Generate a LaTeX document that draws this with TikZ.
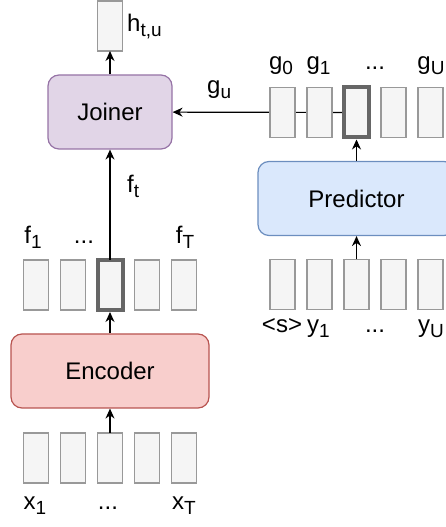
\documentclass[tikz,border=0pt]{standalone}
\usepackage{fontspec}
\setmainfont{Liberation Sans}
\usetikzlibrary{arrows.meta,positioning,backgrounds}
\definecolor{vecfill}{HTML}{F5F5F5}
\definecolor{vecline}{HTML}{999999}
\definecolor{selline}{HTML}{666666}
\definecolor{joinfill}{HTML}{E1D5E7}
\definecolor{joinline}{HTML}{9673A6}
\definecolor{encfill}{HTML}{F8CECC}
\definecolor{encline}{HTML}{B85450}
\definecolor{predfill}{HTML}{DAE8FC}
\definecolor{predline}{HTML}{6C8EBF}
\newcommand{\lsub}[1]{\raisebox{-5pt}{\fontsize{19}{19}\selectfont #1}}

\begin{document}
\begin{tikzpicture}[x=1pt, y=1pt,
  every node/.style={font=\fontsize{24}{28}\selectfont},
  vec/.style={rectangle, draw=vecline, fill=vecfill, line width=1.2pt,
              minimum width=25pt, minimum height=50pt, inner sep=0pt, outer sep=0pt},
  sel/.style={vec, draw=selline, line width=4pt},
  blk/.style={rectangle, rounded corners=11pt, line width=1.2pt,
              minimum height=74pt, inner sep=0pt},
  lbl/.style={anchor=base, inner sep=0pt},
  ar/.style={-{Stealth[length=10pt,width=9pt]}, line width=1.2pt}
]
\useasboundingbox (0,0) rectangle (446,527);
\clip (0,0) rectangle (446,527);

\node[blk, fill=joinfill, draw=joinline, minimum width=124pt] (join) at (110,415) {Joiner};
\node[blk, fill=encfill, draw=encline, minimum width=198pt] (enc) at (110,156) {Encoder};
\node[blk, fill=predfill, draw=predline, minimum width=197pt] (pred) at (356.5,328.5) {Predictor};
\node[vec] (h) at (110,501) {};

\node[vec] (x1) at (36,69) {};
\node[vec, right=12pt of x1] (x2) {};
\node[vec, right=12pt of x2] (x3) {};
\node[vec, right=12pt of x3] (x4) {};
\node[vec, right=12pt of x4] (x5) {};

\node[vec] (f1) at (36,242) {};
\node[vec, right=12pt of f1] (f2) {};
\node[sel, right=12pt of f2] (f3) {};
\node[vec, right=12pt of f3] (f4) {};
\node[vec, right=12pt of f4] (f5) {};

\node[vec] (y1) at (282.5,242.5) {};
\node[vec, right=12pt of y1] (y2) {};
\node[vec, right=12pt of y2] (y3) {};
\node[vec, right=12pt of y3] (y4) {};
\node[vec, right=12pt of y4] (y5) {};

\node[vec] (g1) at (282.5,414.5) {};
\node[vec, right=12pt of g1] (g2) {};
\node[sel, right=12pt of g2] (g3) {};
\node[vec, right=12pt of g3] (g4) {};
\node[vec, right=12pt of g4] (g5) {};

\node[lbl, anchor=base west] (hlab) at (127,495) {h\lsub{t,u}};
\node[lbl, anchor=base west] (gulab) at (207,433) {g\lsub{u}};
\node[lbl, anchor=base west] (ftlab) at (127,334) {f\lsub{t}};

\node[lbl] (xl1) at (35,17) {x\lsub{1}};
\node[lbl] (xl2) at (108,17) {...};
\node[lbl] (xl3) at (184,17) {x\lsub{T}};
\node[lbl] (fl1) at (33,283) {f\lsub{1}};
\node[lbl] (fl2) at (84,283) {...};
\node[lbl] (fl3) at (185,283) {f\lsub{T}};
\node[lbl] (yl1) at (282,194) {<s>};
\node[lbl] (yl2) at (318.5,194) {y\lsub{1}};
\node[lbl] (yl3) at (375,194) {...};
\node[lbl] (yl4) at (431,194) {y\lsub{U}};
\node[lbl] (gl1) at (281,457) {g\lsub{0}};
\node[lbl] (gl2) at (318.5,457) {g\lsub{1}};
\node[lbl] (gl3) at (375,457) {...};
\node[lbl] (gl4) at (431,457) {g\lsub{U}};

\draw[ar] (x3) -- (enc);
\draw[ar, shorten >=2pt] (enc) -- (f3);
\draw[ar] (f3) -- (join);
\draw[ar] (join) -- (h);
\draw[ar] (y3) -- (pred);
\draw[ar, shorten >=2pt] (pred) -- (g3);
\begin{pgfonlayer}{background}
\draw[ar] (g3) -- (join);
\end{pgfonlayer}
\end{tikzpicture}
\end{document}
